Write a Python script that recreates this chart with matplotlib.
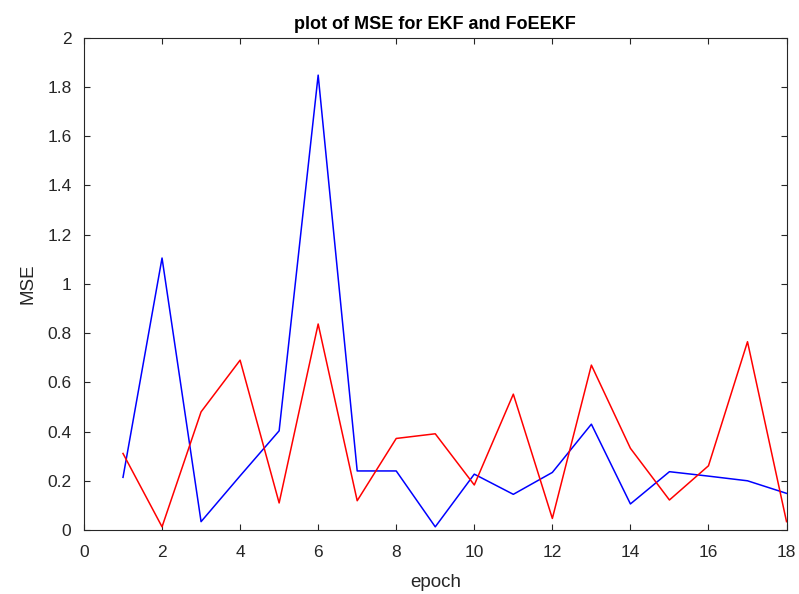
import numpy as np
import matplotlib
matplotlib.use('Agg')
from matplotlib import pyplot as plt

plt.rcParams['font.family'] = ['Liberation Sans', 'DejaVu Sans']

# epoch index and MSE values
epoch = [1, 2, 3, 4, 5, 6, 7, 8, 9, 10, 11, 12, 13, 14, 15, 16, 17, 18]
mse_ekf = [0.214, 1.105, 0.034, 0.22, 0.403, 1.848, 0.24, 0.24, 0.013, 0.227,
           0.145, 0.234, 0.43, 0.106, 0.237, 0.219, 0.2, 0.149]
mse_foeekf = [0.311, 0.013, 0.48, 0.69, 0.11, 0.837, 0.119, 0.372, 0.391, 0.183,
              0.552, 0.047, 0.67, 0.332, 0.122, 0.261, 0.765, 0.034]

xticks = [0, 2, 4, 6, 8, 10, 12, 14, 16, 18]
yticks = [0, 0.2, 0.4, 0.6, 0.8, 1, 1.2, 1.4, 1.6, 1.8, 2]
ytick_labels = ['0', '0.2', '0.4', '0.6', '0.8', '1', '1.2', '1.4', '1.6', '1.8', '2']

fig = plt.figure(figsize=(7.99, 5.94), dpi=100)
ax = fig.add_axes([0.1051, 0.1077, 0.8793, 0.8288])

ax.plot(epoch, mse_ekf, color='#0000ff', linewidth=1.1)
ax.plot(epoch, mse_foeekf, color='#ff0000', linewidth=1.1)

ax.set_xlim(0, 18)
ax.set_ylim(0, 2)
ax.set_xticks(xticks)
ax.set_yticks(yticks)
ax.set_yticklabels(ytick_labels)
ax.tick_params(direction='in', top=True, right=True, length=4, width=0.8,
               labelsize=12.5, colors='#262626')
ax.tick_params(axis='x', pad=11)
ax.tick_params(axis='y', pad=9)
for s in ax.spines.values():
    s.set_color('#262626')
    s.set_linewidth(0.8)

ax.set_title('plot of MSE for EKF and FoEEKF', fontsize=13, fontweight='bold', pad=6)
ax.set_xlabel('epoch', fontsize=13.5, color='#262626', labelpad=10)
ax.set_ylabel('MSE', fontsize=13.5, color='#262626', labelpad=8)

plt.savefig('out.png', dpi=100)
